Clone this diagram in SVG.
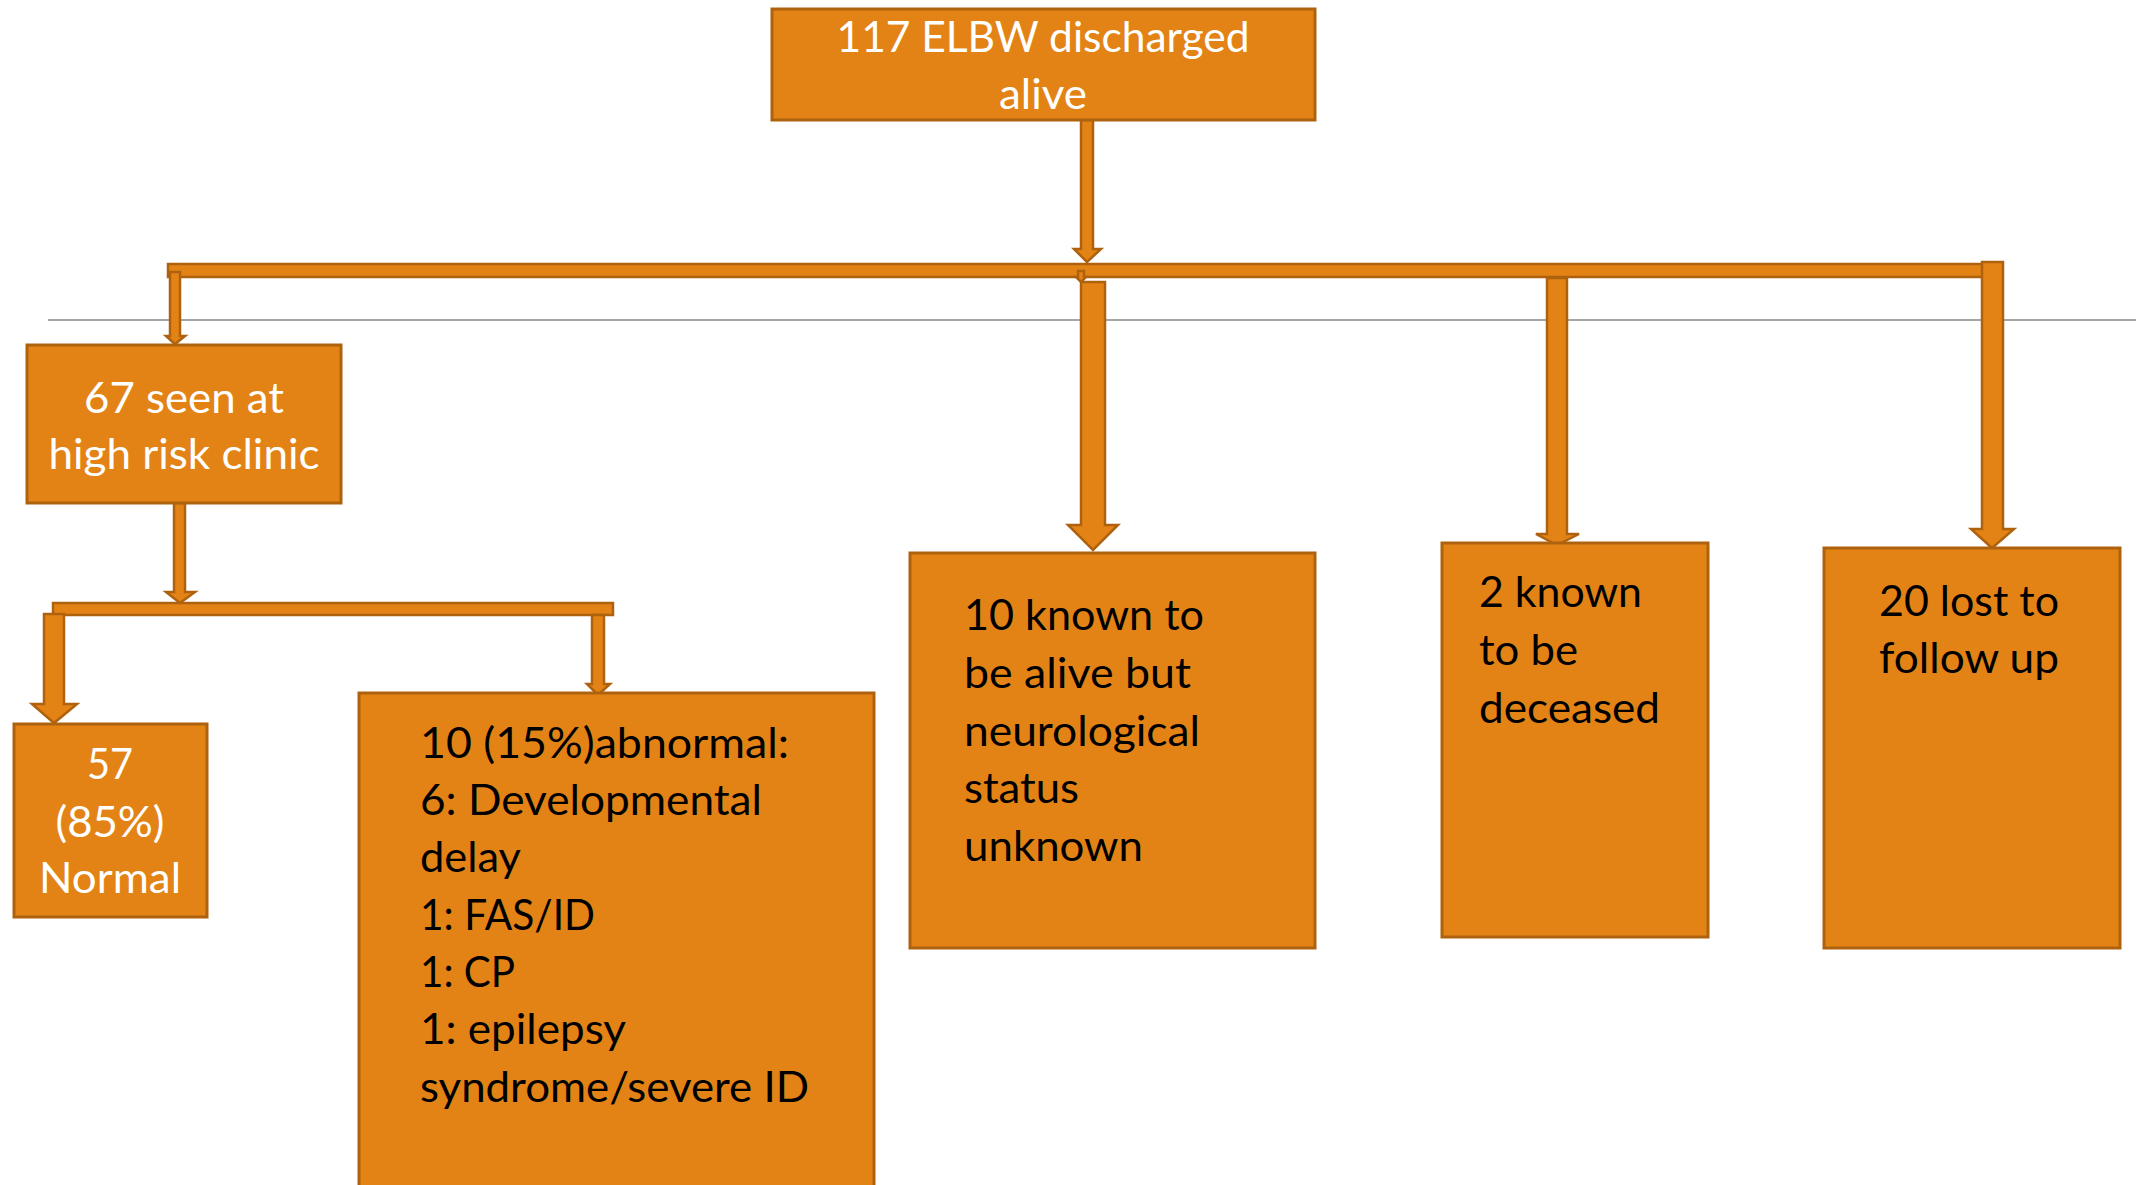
<svg xmlns="http://www.w3.org/2000/svg" width="2136" height="1185" viewBox="0 0 2136 1185">
<style>
.box{fill:#E38316;stroke:#AF620E;stroke-width:3}
.arr{fill:#E38316;stroke:#AF620E;stroke-width:2.5;stroke-linejoin:miter}
.t{font-family:Lato,"Open Sans","Liberation Sans",sans-serif;font-size:42px}
.w{fill:#FFFFFF}
.k{fill:#000000}
.c{text-anchor:middle}
</style>
<rect width="2136" height="1185" fill="#FFFFFF"/>
<line x1="48" y1="320" x2="2136" y2="320" stroke="#A6A6A6" stroke-width="2"/>
<g id="connectors">
<rect class="arr" x="168" y="264" width="1816" height="13"/>
<rect class="arr" x="53" y="603" width="560" height="12"/>
<path class="arr" d="M1081,120 H1093 V249 H1101 L1087,262 L1074,249 H1081 Z"/>
<path class="arr" d="M1078,271 H1084 V277 H1086 L1081,282 L1076,277 H1078 Z"/>
<path class="arr" d="M170,272 H180 V336 H185 L175,344 L166,336 H170 Z"/>
<path class="arr" d="M174,503 H185 V592 H195 L180,603 L166,592 H174 Z"/>
<path class="arr" d="M44,614 H64 V704 H77 L54,723 L32,704 H44 Z"/>
<path class="arr" d="M592,615 H604 V684 H610 L598,695 L587,684 H592 Z"/>
<path class="arr" d="M1081,282 H1105 V525 H1118 L1093,550 L1068,525 H1081 Z"/>
<path class="arr" d="M1547,278 H1567 V534 H1579 L1557,545 L1536,534 H1547 Z"/>
<path class="arr" d="M1982,262 H2003 V529 H2014 L1992,548 L1971,529 H1982 Z"/>
</g>
<g id="n-top">
<rect class="box" x="772" y="9" width="543" height="111"/>
<text class="t w c" x="1043" y="52" textLength="413" lengthAdjust="spacingAndGlyphs">117 ELBW discharged</text>
<text class="t w c" x="1043" y="109" textLength="88" lengthAdjust="spacingAndGlyphs">alive</text>
</g>
<g id="n-clinic">
<rect class="box" x="27" y="345" width="314" height="158"/>
<text class="t w c" x="184" y="413" textLength="200" lengthAdjust="spacingAndGlyphs">67 seen at</text>
<text class="t w c" x="184" y="469" textLength="271" lengthAdjust="spacingAndGlyphs">high risk clinic</text>
</g>
<g id="n-normal">
<rect class="box" x="14" y="724" width="193" height="193"/>
<text class="t w c" x="110" y="779" textLength="46" lengthAdjust="spacingAndGlyphs">57</text>
<text class="t w c" x="110" y="837" textLength="109" lengthAdjust="spacingAndGlyphs">(85%)</text>
<text class="t w c" x="110" y="893" textLength="142" lengthAdjust="spacingAndGlyphs">Normal</text>
</g>
<g id="n-abnormal">
<rect class="box" x="359" y="693" width="515" height="520"/>
<text class="t k" x="420" y="758" textLength="369" lengthAdjust="spacingAndGlyphs">10 (15%)abnormal:</text>
<text class="t k" x="420" y="815" textLength="342" lengthAdjust="spacingAndGlyphs">6: Developmental</text>
<text class="t k" x="420" y="872" textLength="101" lengthAdjust="spacingAndGlyphs">delay</text>
<text class="t k" x="420" y="930" textLength="175" lengthAdjust="spacingAndGlyphs">1: FAS/ID</text>
<text class="t k" x="420" y="987" textLength="95" lengthAdjust="spacingAndGlyphs">1: CP</text>
<text class="t k" x="420" y="1044" textLength="206" lengthAdjust="spacingAndGlyphs">1: epilepsy</text>
<text class="t k" x="420" y="1102" textLength="389" lengthAdjust="spacingAndGlyphs">syndrome/severe ID</text>
</g>
<g id="n-unknown">
<rect class="box" x="910" y="553" width="405" height="395"/>
<text class="t k" x="964" y="630" textLength="240" lengthAdjust="spacingAndGlyphs">10 known to</text>
<text class="t k" x="964" y="688" textLength="227" lengthAdjust="spacingAndGlyphs">be alive but</text>
<text class="t k" x="964" y="746" textLength="236" lengthAdjust="spacingAndGlyphs">neurological</text>
<text class="t k" x="964" y="803" textLength="115" lengthAdjust="spacingAndGlyphs">status</text>
<text class="t k" x="964" y="861" textLength="179" lengthAdjust="spacingAndGlyphs">unknown</text>
</g>
<g id="n-deceased">
<rect class="box" x="1442" y="543" width="266" height="394"/>
<text class="t k" x="1479" y="607" textLength="163" lengthAdjust="spacingAndGlyphs">2 known</text>
<text class="t k" x="1479" y="665" textLength="99" lengthAdjust="spacingAndGlyphs">to be</text>
<text class="t k" x="1479" y="723" textLength="181" lengthAdjust="spacingAndGlyphs">deceased</text>
</g>
<g id="n-lost">
<rect class="box" x="1824" y="548" width="296" height="400"/>
<text class="t k" x="1879" y="616" textLength="180" lengthAdjust="spacingAndGlyphs">20 lost to</text>
<text class="t k" x="1879" y="673" textLength="180" lengthAdjust="spacingAndGlyphs">follow up</text>
</g>
</svg>
